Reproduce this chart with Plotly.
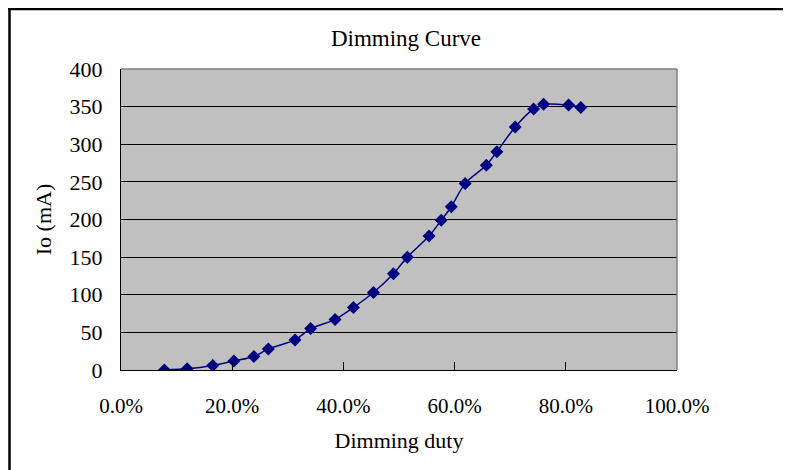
import plotly.graph_objects as go

# Data
duty = [0.078, 0.119, 0.165, 0.203, 0.239, 0.265, 0.313, 0.341, 0.385, 0.418,
        0.454, 0.490, 0.515, 0.554, 0.576, 0.594, 0.619, 0.657, 0.676, 0.709,
        0.742, 0.760, 0.805, 0.827]
io_ma = [0, 1.5, 6, 12, 18, 28, 40, 55, 67, 83,
         103, 128, 150, 178, 199, 217, 248, 272, 290, 323,
         347, 353, 352, 349]

x_ticks = [0.0, 0.2, 0.4, 0.6, 0.8, 1.0]
y_ticks = [0, 50, 100, 150, 200, 250, 300, 350, 400]

FONT = "Liberation Serif, DejaVu Serif, serif"
NAVY = "#000080"

# page body has an 8px margin; figure coordinates = screen - 8
W, H = 783, 462
L, T = 113, 61
pw, ph = 556, 301
R, B = W - L - pw, H - T - ph

def px(xp):
    return (xp - L) / pw

def py(yp):
    return (T + ph - yp) / ph

fig = go.Figure()
fig.add_trace(go.Scatter(
    x=duty, y=io_ma, mode="lines+markers",
    line=dict(color=NAVY, width=1.5, shape="spline", smoothing=0.8),
    marker=dict(symbol="diamond", size=10, color=NAVY),
    showlegend=False,
))

fig.update_layout(
    width=W, height=H,
    margin=dict(l=L, r=R, t=T, b=B, autoexpand=False),
    paper_bgcolor="white",
    plot_bgcolor="#C0C0C0",
    font=dict(family=FONT, size=22, color="black"),
    title=dict(text="Dimming Curve", x=px(398), xref="paper", xanchor="center",
               y=1 - 30 / H, yanchor="middle", font=dict(size=23)),
    xaxis=dict(
        range=[0, 1], tickvals=x_ticks, tickformat=".1%",
        showgrid=False, zeroline=False,
        showline=True, linecolor="black", linewidth=1,
        ticks="inside", ticklen=8, tickcolor="black",
        ticklabelstandoff=17, tickfont=dict(size=21),
        title=dict(text="Dimming duty", standoff=15, font=dict(size=22)),
        fixedrange=True,
    ),
    yaxis=dict(
        range=[0, 400], tickvals=y_ticks,
        showgrid=True, gridcolor="black", gridwidth=1,
        zeroline=False,
        showline=True, linecolor="black", linewidth=1,
        ticks="inside", ticklen=8, tickcolor="black",
        ticklabelstandoff=13, tickfont=dict(size=22),
        title=dict(text="Io (mA)", standoff=11, font=dict(size=22)),
        fixedrange=True,
    ),
    shapes=[
        # gray plot-area border (top & right)
        dict(type="line", xref="paper", yref="paper", x0=0, y0=1, x1=1, y1=1,
             line=dict(color="#808080", width=1.5), layer="above"),
        dict(type="line", xref="paper", yref="paper", x0=1, y0=0, x1=1, y1=1,
             line=dict(color="#808080", width=1.5), layer="above"),
        # outer chart frame (left and top edges)
        dict(type="line", xref="paper", yref="paper",
             x0=px(1.5), y0=py(H), x1=px(1.5), y1=py(0),
             line=dict(color="black", width=2.5), layer="above"),
        dict(type="line", xref="paper", yref="paper",
             x0=px(0), y0=py(1), x1=px(W), y1=py(1),
             line=dict(color="black", width=2.5), layer="above"),
    ],
)

fig.write_html(
    "out.html",
    config={"displayModeBar": False},
    post_script="document.documentElement.style.overflow='hidden';document.body.style.overflow='hidden';",
)
